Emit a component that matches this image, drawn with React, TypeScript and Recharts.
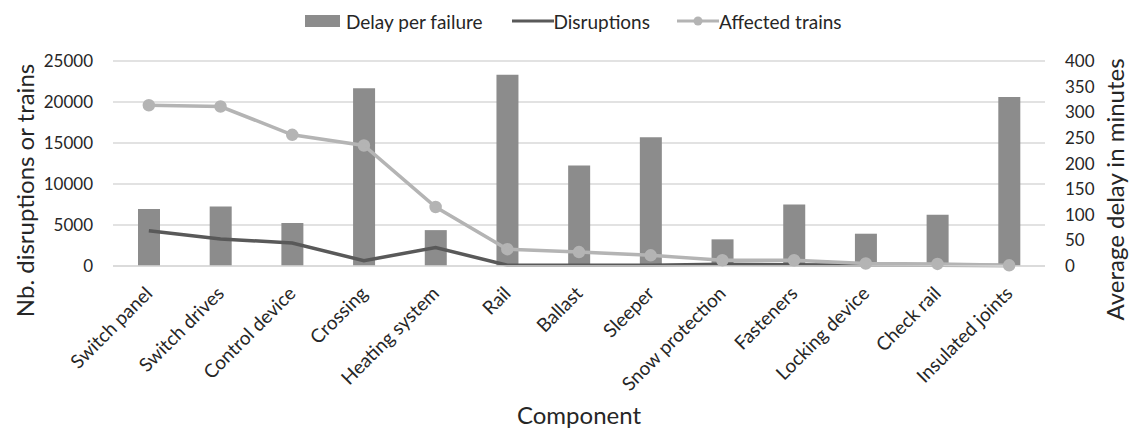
import React from 'react';
import { ComposedChart, Bar, Line, XAxis, YAxis, CartesianGrid, Legend } from 'recharts';

const categories = [
  'Switch panel', 'Switch drives', 'Control device', 'Crossing', 'Heating system', 'Rail',
  'Ballast', 'Sleeper', 'Snow protection', 'Fasteners', 'Locking device', 'Check rail', 'Insulated joints',
];
const delayPerFailure = [111, 116, 84, 347, 70, 373, 196, 251, 52, 120, 63, 100, 330];
const disruptions = [4300, 3300, 2800, 650, 2250, 100, 100, 100, 200, 150, 100, 80, 50];
const affectedTrains = [19600, 19450, 16000, 14700, 7200, 2050, 1700, 1300, 700, 700, 300, 250, 80];
const leftTicks = [0, 5000, 10000, 15000, 20000, 25000];
const rightTicks = [0, 50, 100, 150, 200, 250, 300, 350, 400];

const data = categories.map((c, i) => ({
  component: c,
  delay: delayPerFailure[i],
  disruptions: disruptions[i],
  trains: affectedTrains[i],
}));

const FONT = 'Lato, "Open Sans", sans-serif';
const BAR = '#8c8c8c';
const DARK = '#595959';
const LIGHT = '#b4b4b4';
const TEXT = '#262626';

const legendItems = [
  { name: 'Delay per failure', kind: 'bar', color: BAR, gapAfter: 29 },
  { name: 'Disruptions', kind: 'line', color: DARK, gapAfter: 27 },
  { name: 'Affected trains', kind: 'marker', color: LIGHT, gapAfter: 0 },
];

const LegendContent = () => (
  <div style={{ display: 'flex', justifyContent: 'flex-start', alignItems: 'center', fontFamily: FONT, fontSize: 19, color: TEXT, height: 30, paddingLeft: 305 }}>
    {legendItems.map((it) => (
      <div key={it.name} style={{ display: 'flex', alignItems: 'center', marginRight: it.gapAfter }}>
        {it.kind === 'bar' ? (
          <svg width={41} height={14}>
            <rect x={0} y={1} width={35} height={12} fill={it.color} />
          </svg>
        ) : (
          <svg width={42} height={14}>
            <line x1={0} y1={7} x2={42} y2={7} stroke={it.color} strokeWidth={3} />
            {it.kind === 'marker' && <circle cx={21} cy={7} r={4.5} fill={it.color} />}
          </svg>
        )}
        <span>{it.name}</span>
      </div>
    ))}
  </div>
);

const XTick = (props: any) => {
  const { x, y, payload } = props;
  return (
    <g transform={`translate(${x},${y + 16}) rotate(-45)`}>
      <text x={0} y={0} dy="0.35em" textAnchor="end" fill={TEXT} fontFamily={FONT} fontSize={19}>
        {payload.value}
      </text>
    </g>
  );
};

const LeftLabel = (props: any) => {
  const vb = props.viewBox;
  const cx = 24;
  const cy = vb.y + vb.height / 2 + 27;
  return (
    <text x={cx} y={cy} transform={`rotate(-90, ${cx}, ${cy})`} textAnchor="middle" dominantBaseline="central" fill={TEXT} fontFamily={FONT} fontSize={24}>
      Nb. disruptions or trains
    </text>
  );
};

const RightLabel = (props: any) => {
  const vb = props.viewBox;
  const cx = 1114;
  const cy = vb.y + vb.height / 2 + 26;
  return (
    <text x={cx} y={cy} transform={`rotate(-90, ${cx}, ${cy})`} textAnchor="middle" dominantBaseline="central" fill={TEXT} fontFamily={FONT} fontSize={24}>
      Average delay in minutes
    </text>
  );
};

const BottomLabel = (props: any) => {
  const vb = props.viewBox;
  return (
    <text x={vb.x + vb.width / 2} y={424} textAnchor="middle" fill={TEXT} fontFamily={FONT} fontSize={24}>
      Component
    </text>
  );
};

export default function App() {
  return (
    <div style={{ position: 'fixed', left: 0, top: 0, width: 1133, height: 429, background: '#fff' }}>
      <ComposedChart width={1133} height={429} data={data} margin={{ top: 31, right: 0, bottom: 0, left: 0 }} barCategoryGap="0%">
        <CartesianGrid vertical={false} stroke="#d9d9d9" strokeWidth={1.5} yAxisId="left" />
        <Legend verticalAlign="top" align="center" height={30} wrapperStyle={{ top: 6, left: 0, width: 1133 }} content={<LegendContent />} />
        <XAxis dataKey="component" height={163} interval={0} tickLine={false} axisLine={{ stroke: '#d9d9d9', strokeWidth: 1.5 }} tick={<XTick />} label={<BottomLabel />} />
        <YAxis yAxisId="left" orientation="left" width={113} domain={[0, 25000]} ticks={leftTicks} tickLine={false} axisLine={false} tickSize={0} tickMargin={20} tick={{ fill: TEXT, fontFamily: FONT, fontSize: 17 }} label={<LeftLabel />} />
        <YAxis yAxisId="right" orientation="right" width={88} domain={[0, 400]} ticks={rightTicks} tickLine={false} axisLine={false} tickSize={0} tickMargin={20} tick={{ fill: TEXT, fontFamily: FONT, fontSize: 17, textAnchor: 'start' }} label={<RightLabel />} />
        <Bar yAxisId="right" dataKey="delay" name="Delay per failure" fill={BAR} barSize={22} isAnimationActive={false} />
        <Line yAxisId="left" dataKey="disruptions" name="Disruptions" stroke={DARK} strokeWidth={3.5} dot={false} isAnimationActive={false} />
        <Line yAxisId="left" dataKey="trains" name="Affected trains" stroke={LIGHT} strokeWidth={3.5} dot={{ r: 4.5, fill: LIGHT, stroke: LIGHT }} activeDot={false} isAnimationActive={false} />
      </ComposedChart>
    </div>
  );
}
